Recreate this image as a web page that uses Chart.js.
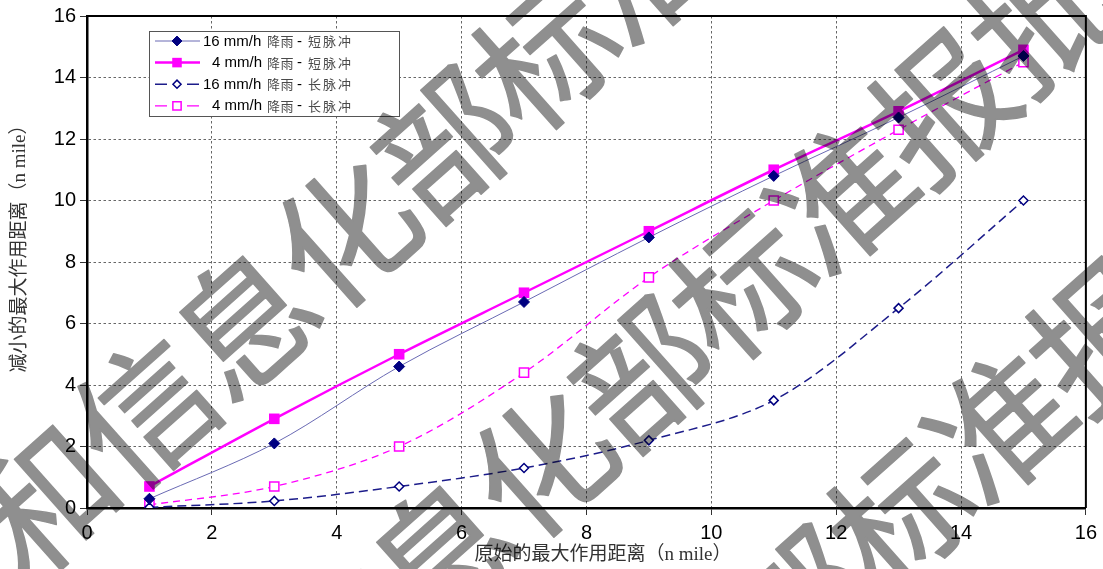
<!DOCTYPE html>
<html>
<head>
<meta charset="utf-8">
<script src="https://cdn.jsdelivr.net/npm/chart.js@4/dist/chart.umd.min.js"></script>
<style>
  html, body { margin: 0; padding: 0; background: #fff; }
  #wrap { width: 1103px; height: 569px; }
</style>
</head>
<body>
<div id="wrap"><canvas id="c" width="1103" height="569"></canvas></div>
<script>
// Original maximum range (n mile)
const rangeOriginal = [1, 3, 5, 7, 9, 11, 13, 15];
// Reduced maximum range (n mile) per rain rate / pulse width
const rain16Short = [0.3, 2.1, 4.6, 6.7, 8.8, 10.8, 12.7, 14.7];
const rain4Short  = [0.7, 2.9, 5.0, 7.0, 9.0, 11.0, 12.9, 14.9];
const rain16Long  = [0.02, 0.23, 0.7, 1.3, 2.2, 3.5, 6.5, 10.0];
const rain4Long   = [0.1, 0.7, 2.0, 4.4, 7.5, 10.0, 12.3, 14.5];
// Axis tick values
const axisTicks = [0, 2, 4, 6, 8, 10, 12, 14, 16];
// Legend label parts
const rateLabels  = ['16 mm/h', '4 mm/h', '16 mm/h', '4 mm/h'];
const pulseLabels = ['短脉冲', '短脉冲', '长脉冲', '长脉冲'];
const xTitle = '原始的最大作用距离（n mile）';
const yTitle = '减小的最大作用距离（n mile）';
const stampText = '工业和信息化部标准报批稿';

const pts = ys => rangeOriginal.map((x, i) => ({ x, y: ys[i] }));
const label = i => `${rateLabels[i]} 降雨 - ${pulseLabels[i]}`;

const datasets = [
  {
    label: label(0), data: pts(rain16Short),
    borderColor: '#6a6ab4', borderWidth: 1, tension: 0.33,
    pointStyle: 'rectRot', pointRadius: 5.5, pointBorderWidth: 1,
    pointBackgroundColor: '#000080', pointBorderColor: '#000080', order: 1
  },
  {
    label: label(1), data: pts(rain4Short),
    borderColor: '#ff00ff', borderWidth: 2.5, tension: 0.33,
    pointStyle: 'rect', pointRadius: 7.5, pointBorderWidth: 0,
    pointBackgroundColor: '#ff00ff', pointBorderColor: '#ff00ff', order: 2
  },
  {
    label: label(2), data: pts(rain16Long),
    borderColor: '#1c1c8a', borderWidth: 1.5, borderDash: [9, 5], tension: 0.33,
    pointStyle: 'rectRot', pointRadius: 4.5, pointBorderWidth: 1.5,
    pointBackgroundColor: '#ffffff', pointBorderColor: '#000080', order: 3
  },
  {
    label: label(3), data: pts(rain4Long),
    borderColor: '#ff00ff', borderWidth: 1.3, borderDash: [7, 5], tension: 0.33,
    pointStyle: 'rect', pointRadius: 6.5, pointBorderWidth: 1.5,
    pointBackgroundColor: '#ffffff', pointBorderColor: '#ff00ff', order: 4
  }
];

const tickFont = { family: '"Liberation Sans", Arial, sans-serif', size: 20 };

// Diagonal stamp, rendered once to its own layer then multiplied over the chart
function stampLayer(w, h) {
  const layer = document.createElement('canvas');
  layer.width = w; layer.height = h;
  const g = layer.getContext('2d');
  g.fillStyle = '#8f8f8f';
  g.strokeStyle = '#8f8f8f';
  g.lineWidth = 1.5;
  g.lineJoin = 'round';
  g.font = '138px "Noto Sans CJK SC", sans-serif';
  g.textAlign = 'center';
  g.textBaseline = 'middle';
  const step = { x: 100, y: -89 };
  const ang = Math.atan2(step.y, step.x);
  const rows = [{ x: -155, y: 678 }, { x: 42, y: 908 }, { x: 200, y: 1137 }];
  rows.forEach(r => {
    [...stampText].forEach((ch, k) => {
      g.save();
      g.translate(r.x + k * step.x, r.y + k * step.y);
      g.rotate(ang);
      g.fillText(ch, 0, 0);
      g.strokeText(ch, 0, 0);
      g.restore();
    });
  });
  return layer;
}

// Background, frame, legend box, axis titles and the stamp
const decor = {
  id: 'decor',
  beforeDraw(chart) {
    const ctx = chart.ctx;
    ctx.save();
    ctx.fillStyle = '#ffffff';
    ctx.fillRect(0, 0, chart.width, chart.height);
    ctx.restore();
  },
  afterDraw(chart) {
    const ctx = chart.ctx;
    const a = chart.chartArea;

    // top and right edges of the plot frame
    ctx.save();
    ctx.strokeStyle = '#000';
    ctx.lineWidth = 2;
    ctx.beginPath();
    ctx.moveTo(a.left, a.top);
    ctx.lineTo(a.right, a.top);
    ctx.lineTo(a.right, a.bottom);
    ctx.stroke();
    ctx.restore();

    // legend
    ctx.save();
    const bx = 149.5, by = 31.5, bw = 250, bh = 85;
    ctx.fillStyle = '#fff';
    ctx.fillRect(bx, by, bw, bh);
    ctx.strokeStyle = '#555';
    ctx.lineWidth = 1;
    ctx.strokeRect(bx, by, bw, bh);
    chart.data.datasets.forEach((ds, i) => {
      const y = 41 + i * 21.6;
      ctx.strokeStyle = ds.borderColor;
      ctx.lineWidth = ds.borderWidth;
      ctx.setLineDash([]);
      ctx.beginPath();
      if (ds.borderDash) {
        ctx.moveTo(155, y); ctx.lineTo(167, y);
        ctx.moveTo(187, y); ctx.lineTo(199, y);
      } else {
        ctx.moveTo(155, y); ctx.lineTo(200, y);
      }
      ctx.stroke();
      ctx.fillStyle = ds.pointBackgroundColor;
      ctx.strokeStyle = ds.pointBorderColor;
      ctx.lineWidth = ds.pointBorderWidth;
      Chart.helpers.drawPoint(ctx, {
        pointStyle: ds.pointStyle, radius: ds.pointRadius * 0.9,
        rotation: 0, borderWidth: ds.pointBorderWidth
      }, 177, y);

      ctx.textBaseline = 'middle';
      ctx.textAlign = 'left';
      ctx.fillStyle = '#000';
      ctx.font = '15px "Liberation Sans", Arial, sans-serif';
      ctx.fillText(rateLabels[i], i % 2 === 0 ? 203 : 212, y + 0.5);
      ctx.fillText('-', 297, y + 0.5);
      ctx.fillStyle = '#4a4a4a';
      ctx.font = '13px "Noto Sans CJK SC", sans-serif';
      ctx.fillText('降', 267, y);
      ctx.fillText('雨', 280.5, y);
      [...pulseLabels[i]].forEach((ch, k) => ctx.fillText(ch, 308 + k * 15, y));
    });
    ctx.restore();

    // axis titles
    ctx.save();
    ctx.fillStyle = '#333';
    ctx.font = '19px "Liberation Serif", "Noto Sans CJK SC", serif';
    ctx.textAlign = 'center';
    ctx.textBaseline = 'middle';
    ctx.fillText(xTitle, 603, 555);
    ctx.translate(20, 244);
    ctx.rotate(-Math.PI / 2);
    ctx.fillText(yTitle, 0, 0);
    ctx.restore();

    // stamp
    ctx.save();
    ctx.globalCompositeOperation = 'multiply';
    ctx.drawImage(stampLayer(chart.width, chart.height), 0, 0);
    ctx.restore();
  }
};

const axisCommon = () => ({
  type: 'linear', min: 0, max: 16,
  afterBuildTicks: s => { s.ticks = axisTicks.map(v => ({ value: v })); },
  grid: {
    color: '#666', lineWidth: 1,
    drawTicks: true, tickLength: 7, tickColor: '#333', tickWidth: 1
  },
  border: { display: true, color: '#000', width: 2.5, dash: [2.5, 2.5] },
  ticks: { font: tickFont, color: '#000' }
});

const xAxis = axisCommon();
xAxis.position = 'bottom';
xAxis.ticks.padding = 6;
xAxis.ticks.maxRotation = 0;
xAxis.afterFit = s => { s.height = 61; };

const yAxis = axisCommon();
yAxis.position = 'left';
yAxis.ticks.padding = 4;
yAxis.afterFit = s => { s.width = 87; };

new Chart(document.getElementById('c'), {
  type: 'line',
  data: { datasets },
  options: {
    responsive: false,
    devicePixelRatio: 1,
    animation: false,
    layout: { padding: { top: 15, right: 16, left: 0, bottom: 0 } },
    scales: { x: xAxis, y: yAxis },
    plugins: { legend: { display: false }, tooltip: { enabled: false } }
  },
  plugins: [decor]
});
</script>
</body>
</html>
